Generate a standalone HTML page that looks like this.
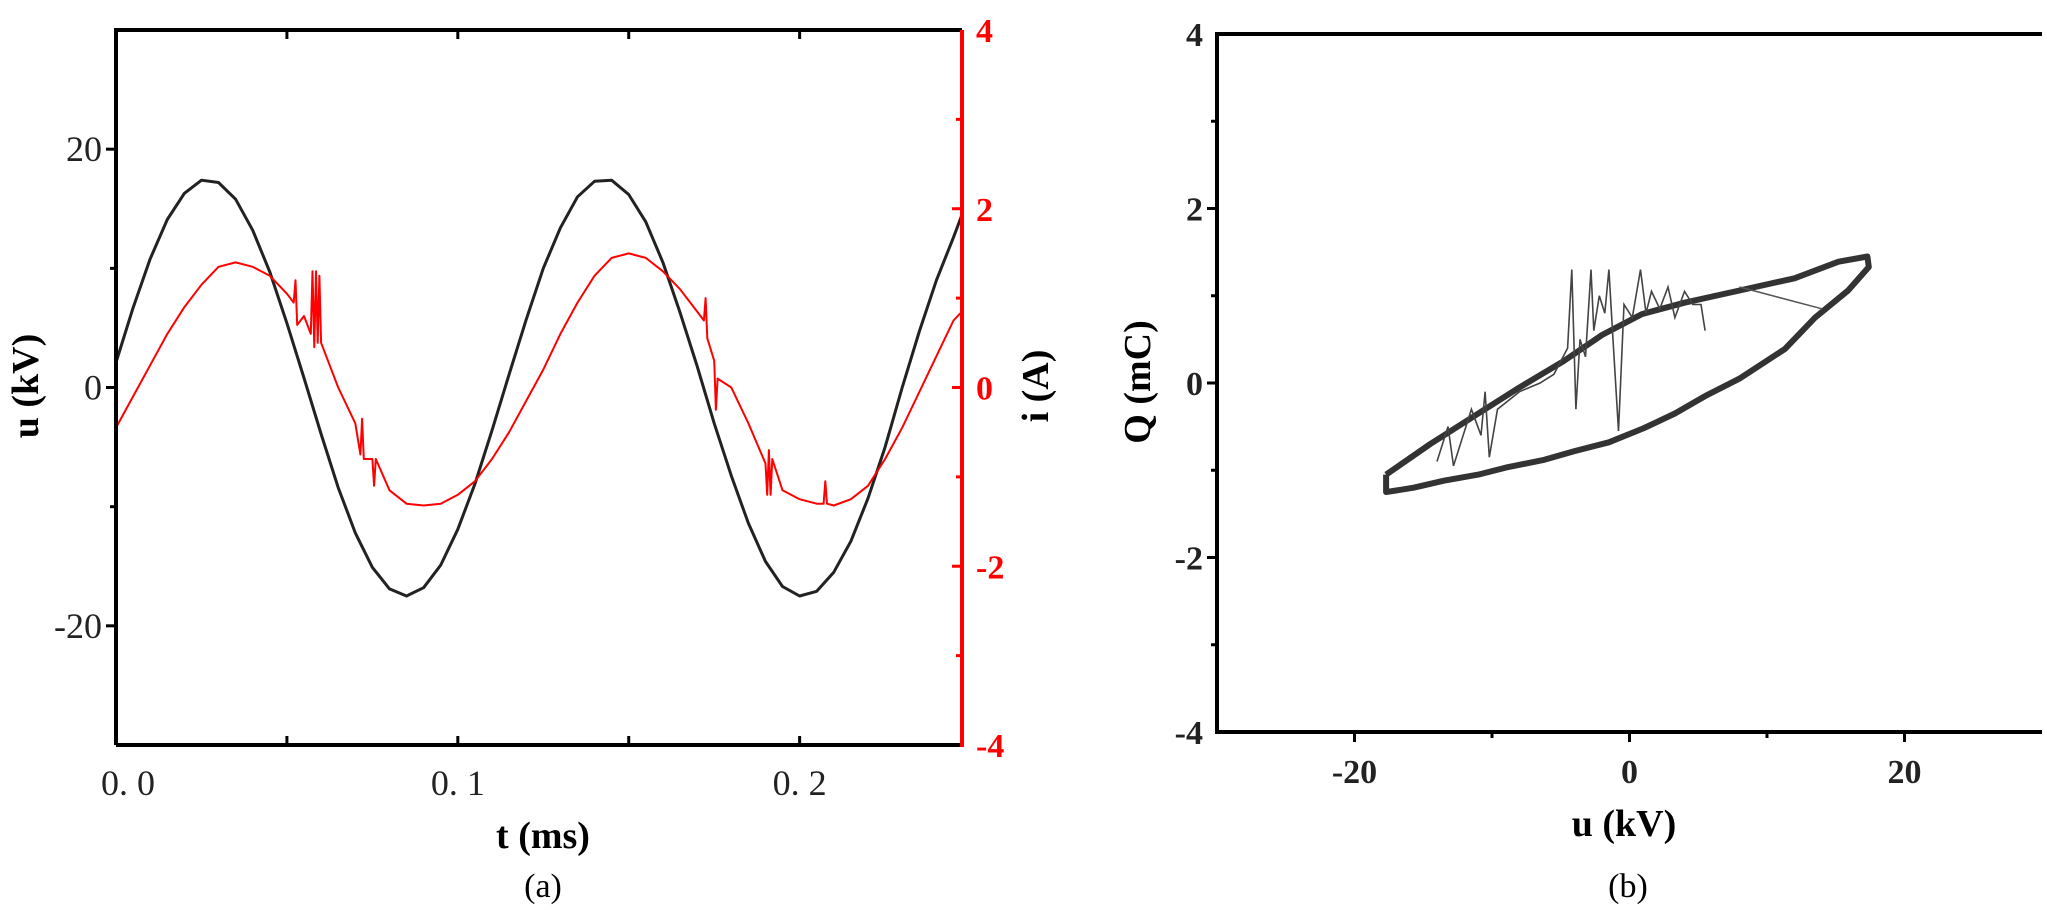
<!DOCTYPE html>
<html><head><meta charset="utf-8"><style>
html,body{margin:0;padding:0;background:#fff;}
svg{display:block;}
text{font-family:"Liberation Serif",serif;}
</style></head><body>
<svg id="chart" width="2047" height="910" viewBox="0 0 2047 910" xmlns="http://www.w3.org/2000/svg"></svg>
<script>
// ---- Panel (a) data ----
const tVals = [0,0.005,0.010,0.015,0.020,0.025,0.030,0.035,0.040,0.045,0.050,0.055,0.060,0.065,0.070,0.075,0.080,0.085,0.090,0.095,0.100,0.105,0.110,0.115,0.120,0.125,0.130,0.135,0.140,0.145,0.150,0.155,0.160,0.165,0.170,0.175,0.180,0.185,0.190,0.195,0.200,0.205,0.210,0.215,0.220,0.225,0.230,0.235,0.240,0.245,0.2475];
const uVals = [2.1,6.7,10.8,14.1,16.3,17.4,17.2,15.8,13.2,9.7,5.4,0.8,-3.9,-8.4,-12.2,-15.1,-16.9,-17.5,-16.8,-14.9,-11.9,-8.1,-3.6,1.1,5.7,10.0,13.4,16.0,17.3,17.4,16.2,13.9,10.5,6.3,1.8,-3.0,-7.4,-11.4,-14.6,-16.7,-17.5,-17.1,-15.5,-12.9,-9.3,-5.0,0.0,4.7,9.0,12.6,14.5];
const iT = [0,0.005,0.010,0.015,0.020,0.025,0.030,0.035,0.040,0.045,0.050,0.052,0.0525,0.053,0.055,0.057,0.0575,0.058,0.0585,0.059,0.0595,0.060,0.065,0.070,0.0715,0.072,0.0725,0.075,0.0755,0.076,0.080,0.085,0.090,0.095,0.100,0.105,0.110,0.115,0.120,0.125,0.130,0.135,0.140,0.145,0.150,0.155,0.160,0.165,0.170,0.172,0.1725,0.173,0.175,0.1755,0.176,0.180,0.185,0.190,0.1905,0.191,0.1915,0.192,0.195,0.200,0.205,0.207,0.2075,0.208,0.210,0.215,0.220,0.225,0.230,0.235,0.240,0.245,0.2475];
const iVals = [-0.45,-0.1,0.25,0.6,0.9,1.15,1.35,1.4,1.35,1.25,1.05,0.95,1.2,0.7,0.8,0.6,1.3,0.45,1.3,0.5,1.25,0.5,0.0,-0.4,-0.75,-0.35,-0.8,-0.8,-1.1,-0.8,-1.15,-1.3,-1.32,-1.3,-1.2,-1.05,-0.8,-0.5,-0.15,0.2,0.6,0.95,1.25,1.45,1.5,1.45,1.3,1.1,0.85,0.75,1.0,0.55,0.3,-0.25,0.1,0.0,-0.4,-0.85,-1.2,-0.7,-1.2,-0.8,-1.15,-1.25,-1.3,-1.3,-1.05,-1.3,-1.32,-1.25,-1.1,-0.8,-0.45,-0.05,0.35,0.75,0.85];
const aXTicks = [0,0.1,0.2];
const aXLabels = ["0. 0","0. 1","0. 2"];
const aUTicks = [20,0,-20];
const aITicks = [4,2,0,-2,-4];
// ---- Panel (b) data ----
const loopU = [-17.7,-14.5,-11.0,-8.0,-4.8,-2.0,0.9,4.0,8.0,12.0,15.2,17.3,17.4,15.9,13.5,11.3,8.0,5.5,3.3,1.0,-1.5,-4.0,-6.2,-9.0,-11.0,-13.5,-15.7,-17.7,-17.7];
const loopQ = [-1.05,-0.7,-0.35,-0.05,0.25,0.55,0.79,0.92,1.06,1.2,1.39,1.45,1.33,1.06,0.75,0.39,0.05,-0.15,-0.35,-0.52,-0.68,-0.78,-0.88,-0.97,-1.05,-1.12,-1.2,-1.25,-1.05];
const spikeU = [-14,-13.2,-12.8,-11.5,-10.8,-10.5,-10.2,-9.6,-8,-6.5,-5.5,-4.5,-4.2,-3.9,-3.6,-3.2,-2.8,-2.6,-2.2,-1.8,-1.5,-1.2,-0.8,-0.4,0.2,0.8,1.2,1.6,2.2,2.8,3.3,4.0,4.6,5.2,5.5];
const spikeQ = [-0.9,-0.5,-0.95,-0.3,-0.6,-0.1,-0.85,-0.3,-0.1,0.0,0.1,0.4,1.3,-0.3,0.5,0.3,1.3,0.6,1.0,0.8,1.3,0.5,-0.55,0.9,0.75,1.3,0.8,1.05,0.85,1.1,0.75,1.05,0.9,0.9,0.6];
const chordU = [8,14];
const chordQ = [1.1,0.85];
const bXTicks = [-20,0,20];
const bYTicks = [4,2,0,-2,-4];

const NS = "http://www.w3.org/2000/svg";
const svg = document.getElementById("chart");
function el(tag, attrs, parent){ const e=document.createElementNS(NS,tag); for(const k in attrs) e.setAttribute(k,attrs[k]); (parent||svg).appendChild(e); return e; }
function txt(s, attrs, parent){ const e=el("text",attrs,parent); e.textContent=s; return e; }

// Panel a scales
const aL=116,aR=962,aT=30,aB=745;
const ax = t => aL + (t-0)/(0.2475-0)*(aR-aL);
const au = u => aT + (30-u)/60*(aB-aT);
const ai = i => aT + (4-i)/8*(aB-aT);

const ga = el("g",{});



// u line
let d = tVals.map((t,k)=>(k?"L":"M")+ax(t).toFixed(1)+","+au(uVals[k]).toFixed(1)).join("");
const uLine = el("path",{d:d,fill:"none",stroke:"#222",  "stroke-width":3,"stroke-linejoin":"round"},ga);


d = iT.map((t,k)=>(k?"L":"M")+ax(t).toFixed(1)+","+ai(iVals[k]).toFixed(1)).join("");
const iLine = el("path",{d:d,fill:"none",stroke:"#f00","stroke-width":2,"stroke-linejoin":"round"},ga);



// frame
el("path",{d:`M${aL},${aB}L${aL},${aT}L${aR},${aT}`,fill:"none",stroke:"#000","stroke-width":4},ga);
el("line",{x1:aL,y1:aB,x2:aR,y2:aB,stroke:"#000","stroke-width":4},ga);
el("line",{x1:aR,y1:aT,x2:aR,y2:aB+2,stroke:"#f00","stroke-width":4},ga);
// x ticks
[0.05,0.1,0.15,0.2].forEach(t=>{
  el("line",{x1:ax(t),y1:aB,x2:ax(t),y2:aB-9,stroke:"#000","stroke-width":3},ga);
  el("line",{x1:ax(t),y1:aT,x2:ax(t),y2:aT+9,stroke:"#000","stroke-width":3},ga);
});
aXTicks.forEach((t,k)=>{
  const e=txt(aXLabels[k],{x:ax(t)+(k==0?12:0),y:795,"font-size":36,"text-anchor":"middle",fill:"#222"},ga);
  
  
});
[20,10,0,-10,-20].forEach(u=>{
  el("line",{x1:aL,y1:au(u),x2:aL-(u%20==0?10:6),y2:au(u),stroke:"#000","stroke-width":3},ga);
});
aUTicks.forEach(u=>{
  const e=txt(String(u),{x:aL-14,y:au(u)+12,"font-size":36,"text-anchor":"end",fill:"#222"},ga);
  
  
});
[3,2,1,0,-1,-2,-3].forEach(i=>{
  el("line",{x1:aR,y1:ai(i),x2:aR-(i%2==0?10:6),y2:ai(i),stroke:"#f00","stroke-width":3},ga);
});
aITicks.forEach(i=>{
  const e=txt(String(i),{x:aR+14,y:ai(i)+12,"font-size":34,"font-weight":"bold",fill:"#f00"},ga);
  
  
});
let e=txt("t (ms)",{x:543,y:848,"font-size":38,"font-weight":"bold","text-anchor":"middle"},ga);


e=txt("(a)",{x:543,y:897,"font-size":34,"text-anchor":"middle"},ga);


e=txt("u (kV)",{x:0,y:0,"font-size":38,"font-weight":"bold","text-anchor":"middle",transform:"translate(38,386) rotate(-90)"},ga);


e=txt("i (A)",{x:0,y:0,"font-size":38,"font-weight":"bold","text-anchor":"middle",transform:"translate(1048,386) rotate(-90)"},ga);



// Panel b
const bL=1217,bR=2042,bT=34,bB=732;
const bx = u => bL + (u+30)/60*(bR-bL);
const by = q => bT + (4-q)/8*(bB-bT);
const gb = el("g",{});



d = loopU.map((u,k)=>(k?"L":"M")+bx(u).toFixed(1)+","+by(loopQ[k]).toFixed(1)).join("");
const loop = el("path",{d:d,fill:"none",stroke:"#333","stroke-width":6,"stroke-linejoin":"round"},gb);


d = spikeU.map((u,k)=>(k?"L":"M")+bx(u).toFixed(1)+","+by(spikeQ[k]).toFixed(1)).join("");
const sp = el("path",{d:d,fill:"none",stroke:"#444","stroke-width":1.6},gb);


d = chordU.map((u,k)=>(k?"L":"M")+bx(u).toFixed(1)+","+by(chordQ[k]).toFixed(1)).join("");
el("path",{d:d,fill:"none",stroke:"#555","stroke-width":1.5},gb);

el("path",{d:`M${bR},${bT}L${bL},${bT}L${bL},${bB}L${bR},${bB}`,fill:"none",stroke:"#000","stroke-width":4},gb);
[-20,-10,0,10,20].forEach(u=>{
  el("line",{x1:bx(u),y1:bB,x2:bx(u),y2:bB+(u%20==0?10:6),stroke:"#000","stroke-width":3},gb);
});
bXTicks.forEach(u=>{
  const t=txt(String(u),{x:bx(u),y:783,"font-size":34,"font-weight":"bold","text-anchor":"middle",fill:"#222"},gb);
  
  
});
[3,2,1,0,-1,-2,-3].forEach(q=>{
  el("line",{x1:bL,y1:by(q),x2:bL-(q%2==0?10:6),y2:by(q),stroke:"#000","stroke-width":3},gb);
});
bYTicks.forEach(q=>{
  const t=txt(String(q),{x:bL-14,y:by(q)+12,"font-size":34,"font-weight":"bold","text-anchor":"end",fill:"#222"},gb);
  
  
});
e=txt("u (kV)",{x:1624,y:836,"font-size":38,"font-weight":"bold","text-anchor":"middle"},gb);


e=txt("(b)",{x:1628,y:897,"font-size":34,"text-anchor":"middle"},gb);


e=txt("Q (mC)",{x:0,y:0,"font-size":38,"font-weight":"bold","text-anchor":"middle",transform:"translate(1150,382) rotate(-90)"},gb);


</script>
</body></html>
